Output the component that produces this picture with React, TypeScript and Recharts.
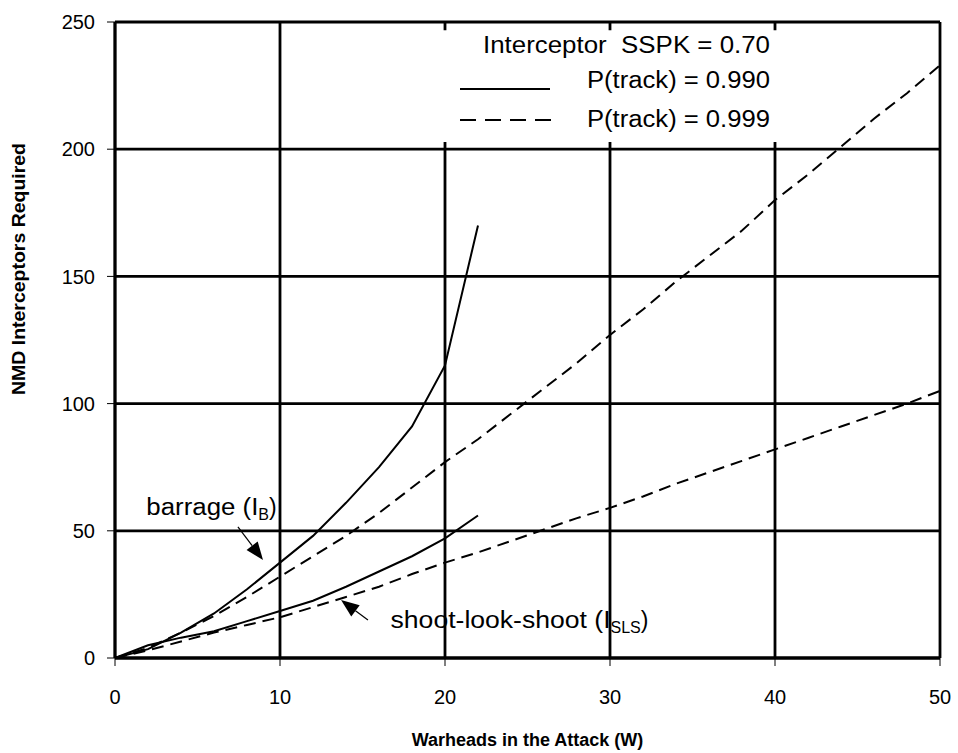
import {
  LineChart,
  Line,
  CartesianGrid,
  XAxis,
  YAxis,
  ReferenceArea,
  ReferenceLine,
  ReferenceDot,
} from "recharts";

// warheads in the attack
const wShort = [0, 2, 4, 6, 8, 10, 12, 14, 16, 18, 20, 22];
const wLong = [
  0, 2, 4, 6, 8, 10, 12, 14, 16, 18, 20, 22, 24, 26, 28, 30, 32, 34, 36, 38,
  40, 42, 44, 46, 48, 50,
];

// interceptors required, P(track) = 0.990 (solid)
const barrage990 = [0, 3.5, 10, 17.5, 27, 37.5, 48, 61, 75, 91, 115, 170];
const sls990 = [0, 5, 8, 10.5, 14.5, 18.5, 22.5, 28, 34, 40, 47, 56];

// interceptors required, P(track) = 0.999 (dashed)
const barrage999 = [
  0, 4, 10, 16.5, 24, 32, 40, 48, 57, 67, 77, 86, 96, 106, 116, 127, 137, 148,
  158, 168, 180, 190, 201, 212, 222, 233,
];
const sls999 = [
  0, 3, 6.5, 10, 13, 16, 20, 24, 28, 33, 37.5, 41.5, 46, 50.5, 55, 59, 63.5,
  68.5, 73, 77.5, 82, 86.5, 91, 95.5, 100, 105,
];

const xTicks = [0, 10, 20, 30, 40, 50];
const yTicks = [0, 50, 100, 150, 200, 250];

const FONT = '"Liberation Sans", Arial, sans-serif';

const toPts = (xs: number[], ys: number[]) =>
  xs.map((w, i) => ({ w, v: ys[i] }));

const Arrow = (props: any) => {
  const { x1, y1, x2, y2 } = props;
  const dx = x2 - x1;
  const dy = y2 - y1;
  const len = Math.sqrt(dx * dx + dy * dy) || 1;
  const ux = dx / len;
  const uy = dy / len;
  const hl = 18;
  const hw = 7;
  const bx = x2 - ux * hl;
  const by = y2 - uy * hl;
  const pts = `${x2},${y2} ${bx - uy * hw},${by + ux * hw} ${bx + uy * hw},${by - ux * hw}`;
  return (
    <g>
      <line x1={x1} y1={y1} x2={bx} y2={by} stroke="#000" strokeWidth={1.2} />
      <polygon points={pts} fill="#000" />
    </g>
  );
};

const note = (main: string, sub: string, w1: number) => (props: any) => {
  const { viewBox } = props;
  return (
    <text x={viewBox.x} y={viewBox.y + 8} fontSize={23} fontFamily={FONT} fill="#000">
      <tspan textLength={w1} lengthAdjust="spacingAndGlyphs">
        {main}
      </tspan>
      <tspan fontSize={16} dy={5}>
        {sub}
      </tspan>
      <tspan dy={-5}>)</tspan>
    </text>
  );
};

const LegendBox = () => (
  <svg
    width={958}
    height={753}
    style={{ position: "absolute", left: 0, top: 0, pointerEvents: "none" }}
  >
    <g fontFamily={FONT} fontSize={23} fill="#000">
      <text x={483} y={53} textLength={287} lengthAdjust="spacingAndGlyphs">
        Interceptor{"\u00a0\u00a0"}SSPK = 0.70
      </text>
      <line x1={460} y1={89} x2={550} y2={89} stroke="#000" strokeWidth={2} />
      <text x={587} y={88} textLength={183} lengthAdjust="spacingAndGlyphs">
        P(track) = 0.990
      </text>
      <line
        x1={460}
        y1={120}
        x2={556}
        y2={120}
        stroke="#000"
        strokeWidth={2}
        strokeDasharray="16 9"
      />
      <text x={587} y={127} textLength={183} lengthAdjust="spacingAndGlyphs">
        P(track) = 0.999
      </text>
    </g>
  </svg>
);

export default function App() {
  return (
    <div style={{ position: "absolute", left: 0, top: 0, background: "#fff" }}>
      <LineChart
        width={958}
        height={753}
        margin={{ top: 22, right: 18, bottom: 0, left: 0 }}
        style={{ fontFamily: FONT }}
      >
        <CartesianGrid stroke="#000" strokeWidth={2.8} />
        <XAxis
          type="number"
          dataKey="w"
          domain={[0, 50]}
          ticks={xTicks}
          height={95}
          tickSize={8}
          tickMargin={24}
          tick={{ fill: "#000", fontSize: 20 }}
          tickLine={{ stroke: "#000", strokeWidth: 1 }}
          axisLine={{ stroke: "#000", strokeWidth: 2.8 }}
          label={{
            value: "Warheads in the Attack (W)",
            position: "insideBottom",
            offset: 7,
            fill: "#000",
            fontSize: 18,
            fontWeight: "bold",
          }}
        />
        <YAxis
          type="number"
          domain={[0, 250]}
          ticks={yTicks}
          width={115}
          tickSize={8}
          tickMargin={12}
          tick={{ fill: "#000", fontSize: 20 }}
          tickLine={{ stroke: "#000", strokeWidth: 1 }}
          axisLine={{ stroke: "#000", strokeWidth: 2.8 }}
          label={{
            content: () => (
              <text
                x={25}
                y={269}
                transform="rotate(-90, 25, 269)"
                textAnchor="middle"
                fontFamily={FONT}
                fontSize={18}
                fontWeight="bold"
                fill="#000"
                textLength={252}
                lengthAdjust="spacingAndGlyphs"
              >
                NMD Interceptors Required
              </text>
            ),
          }}
        />
        <ReferenceArea
          x1={13.8}
          x2={49.8}
          y1={202.8}
          y2={246.8}
          fill="#fff"
          fillOpacity={1}
          stroke="none"
        />
        <Line
          data={toPts(wShort, barrage990)}
          dataKey="v"
          type="linear"
          stroke="#000"
          strokeWidth={2}
          dot={false}
          isAnimationActive={false}
        />
        <Line
          data={toPts(wShort, sls990)}
          dataKey="v"
          type="linear"
          stroke="#000"
          strokeWidth={2}
          dot={false}
          isAnimationActive={false}
        />
        <Line
          data={toPts(wLong, barrage999)}
          dataKey="v"
          type="linear"
          stroke="#000"
          strokeWidth={2}
          strokeDasharray="12 7"
          dot={false}
          isAnimationActive={false}
        />
        <Line
          data={toPts(wLong, sls999)}
          dataKey="v"
          type="linear"
          stroke="#000"
          strokeWidth={2}
          strokeDasharray="12 7"
          dot={false}
          isAnimationActive={false}
        />
        <ReferenceLine
          segment={[
            { x: 7.45, y: 51.5 },
            { x: 8.97, y: 38.5 },
          ]}
          shape={Arrow}
        />
        <ReferenceLine
          segment={[
            { x: 15.33, y: 14.9 },
            { x: 13.7, y: 22.8 },
          ]}
          shape={Arrow}
        />
        <ReferenceDot
          x={1.9}
          y={59.4}
          r={0}
          fill="none"
          stroke="none"
          label={{ content: note("barrage (I", "B", 112) }}
        />
        <ReferenceDot
          x={16.7}
          y={14.9}
          r={0}
          fill="none"
          stroke="none"
          label={{ content: note("shoot-look-shoot (I", "SLS", 220) }}
        />
      </LineChart>
      <LegendBox />
    </div>
  );
}
